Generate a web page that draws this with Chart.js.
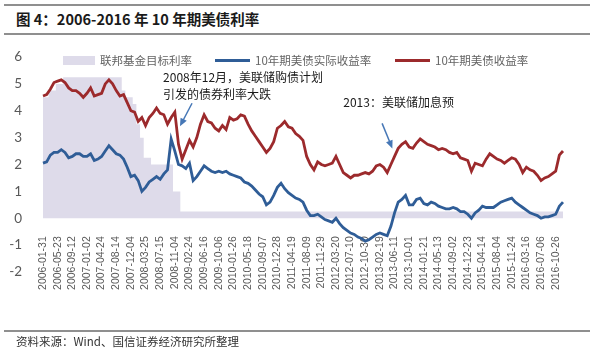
<!DOCTYPE html>
<html>
<head>
<meta charset="utf-8">
<script src="https://cdn.jsdelivr.net/npm/chart.js@4.4.1/dist/chart.umd.min.js"></script>
<style>
  body { margin: 0; background: #fff; font-family: "Noto Sans CJK SC", sans-serif; }
  #page { position: relative; width: 600px; height: 353px; overflow: hidden; }
  .rule { position: absolute; left: 4px; width: 586px; height: 2px; background: #8f8f8f; }
  #title { position: absolute; left: 16px; top: 12px; font-size: 14.5px; line-height: 1; font-weight: bold; color: #1a1a1a; }
  #chart { position: absolute; left: 0; top: 0; }
  #legend { position: absolute; left: 0; top: 52px; width: 600px; height: 16px; font-size: 11.5px; color: #646464; }
  .item { position: absolute; top: 0; height: 16px; display: flex; align-items: center; white-space: nowrap; }
  .item span { margin-left: 5px; }
  #source { position: absolute; left: 16px; top: 336px; font-size: 11.5px; line-height: 1; color: #333; }
</style>
</head>
<body>
<div id="page">
  <div class="rule" style="top:4px"></div>
  <div id="title">图 4：2006-2016 年 10 年期美债利率</div>
  <div class="rule" style="top:33px"></div>
  <canvas id="chart" width="600" height="353"></canvas>
  <div id="legend"></div>
  <div class="rule" style="top:330px"></div>
  <div id="source">资料来源：Wind、国信证券经济研究所整理</div>
</div>
<script>
// x axis tick labels, one every 4 samples (samples are 4 weeks apart)
const tickLabels = [
  '2006-01-31', '2006-05-23', '2006-09-12', '2007-01-02', '2007-04-24', '2007-08-14',
  '2007-12-04', '2008-03-25', '2008-07-15', '2008-11-04', '2009-02-24', '2009-06-16',
  '2009-10-06', '2010-01-26', '2010-05-18', '2010-09-07', '2010-12-28', '2011-04-19',
  '2011-08-09', '2011-11-29', '2012-03-20', '2012-07-10', '2012-10-30', '2013-02-19',
  '2013-06-11', '2013-10-01', '2014-01-21', '2014-05-13', '2014-09-02', '2014-12-23',
  '2015-04-14', '2015-08-04', '2015-11-24', '2016-03-16', '2016-07-06', '2016-10-26'
];

// 联邦基金目标利率 (%)
const fedFunds = [
  4.5, 4.5, 4.75, 4.75, 5.0, 5.0, 5.25, 5.25, 5.25, 5.25,
  5.25, 5.25, 5.25, 5.25, 5.25, 5.25, 5.25, 5.25, 5.25, 5.25,
  5.25, 5.25, 4.75, 4.5, 4.5, 4.25, 3.5, 3.0, 2.25, 2.25,
  2.0, 2.0, 2.0, 2.0, 2.0, 2.0, 1.0, 1.0, 0.25, 0.25,
  0.25, 0.25, 0.25, 0.25, 0.25, 0.25, 0.25, 0.25, 0.25, 0.25,
  0.25, 0.25, 0.25, 0.25, 0.25, 0.25, 0.25, 0.25, 0.25, 0.25,
  0.25, 0.25, 0.25, 0.25, 0.25, 0.25, 0.25, 0.25, 0.25, 0.25,
  0.25, 0.25, 0.25, 0.25, 0.25, 0.25, 0.25, 0.25, 0.25, 0.25,
  0.25, 0.25, 0.25, 0.25, 0.25, 0.25, 0.25, 0.25, 0.25, 0.25,
  0.25, 0.25, 0.25, 0.25, 0.25, 0.25, 0.25, 0.25, 0.25, 0.25,
  0.25, 0.25, 0.25, 0.25, 0.25, 0.25, 0.25, 0.25, 0.25, 0.25,
  0.25, 0.25, 0.25, 0.25, 0.25, 0.25, 0.25, 0.25, 0.25, 0.25,
  0.25, 0.25, 0.25, 0.25, 0.25, 0.25, 0.25, 0.25, 0.25, 0.25,
  0.25, 0.25, 0.25, 0.25, 0.25, 0.25, 0.25, 0.25, 0.25, 0.25,
  0.25, 0.25, 0.25
];

// 10年期美债实际收益率 (%)
const realYield = [
  2.05, 2.1, 2.35, 2.45, 2.45, 2.55, 2.45, 2.25, 2.3, 2.4,
  2.4, 2.3, 2.3, 2.4, 2.15, 2.2, 2.3, 2.5, 2.7, 2.55,
  2.4, 2.35, 2.2, 1.9, 1.55, 1.6, 1.4, 1.0, 1.15, 1.35,
  1.45, 1.55, 1.45, 1.65, 1.8, 2.95, 2.5, 2.0, 1.95, 1.85,
  2.05, 1.4, 1.55, 1.75, 1.95, 1.85, 1.75, 1.7, 1.75, 1.7,
  1.75, 1.65, 1.6, 1.55, 1.5, 1.35, 1.3, 1.2, 1.05, 0.9,
  0.8, 0.5, 0.6, 0.85, 1.15, 1.3, 1.1, 0.95, 0.85, 0.75,
  0.7, 0.6, 0.3, 0.1, 0.1, 0.15, 0.05, -0.05, -0.1, -0.15,
  0.0, -0.2, -0.35, -0.45, -0.55, -0.6, -0.7, -0.75, -0.85, -0.8,
  -0.7, -0.6, -0.55, -0.6, -0.65, -0.3, 0.2, 0.6, 0.7, 0.85,
  0.5, 0.5, 0.7, 0.75, 0.55, 0.5, 0.6, 0.55, 0.45, 0.4,
  0.35, 0.35, 0.4, 0.35, 0.25, 0.25, 0.15, 0.0, 0.2, 0.3,
  0.45, 0.4, 0.4, 0.4, 0.5, 0.6, 0.65, 0.7, 0.75, 0.6,
  0.5, 0.4, 0.3, 0.2, 0.15, 0.1, 0.0, 0.05, 0.05, 0.1,
  0.15, 0.45, 0.6
];

// 10年期美债收益率 (%)
const nominalYield = [
  4.55, 4.6, 4.8, 5.05, 5.1, 5.15, 5.05, 4.85, 4.75, 4.75,
  4.65, 4.5, 4.65, 4.85, 4.55, 4.6, 4.65, 5.0, 5.15, 5.0,
  4.75, 4.55, 4.6, 4.3, 4.0, 3.95, 3.6, 3.75, 3.45, 3.75,
  3.9, 4.1, 3.9, 3.85, 3.5, 3.75, 3.95, 2.75, 2.2, 2.55,
  2.9, 2.65, 3.0, 3.5, 3.85, 3.6, 3.55, 3.35, 3.25, 3.45,
  3.3, 3.75, 3.65, 3.7, 3.85, 3.8, 3.5, 3.25, 3.05, 2.85,
  2.65, 2.45, 2.6, 2.85, 3.35, 3.45, 3.6, 3.4, 3.35, 3.15,
  3.05, 2.9, 2.3, 2.0, 1.8, 2.1, 2.0, 1.95, 2.0, 2.05,
  2.3, 2.0, 1.7, 1.6, 1.5, 1.6, 1.6, 1.65, 1.7, 1.65,
  1.75, 1.95, 2.0, 1.9, 1.7, 2.0, 2.3, 2.6, 2.75, 2.85,
  2.65, 2.6, 2.8, 2.95, 2.85, 2.75, 2.7, 2.65, 2.55, 2.6,
  2.55, 2.45, 2.4, 2.45, 2.25, 2.2, 2.15, 1.75, 2.05, 2.0,
  1.95, 2.2, 2.4, 2.3, 2.2, 2.15, 2.05, 2.15, 2.25, 2.2,
  2.0, 1.7, 1.9, 1.8, 1.75, 1.6, 1.4, 1.5, 1.55, 1.65,
  1.75, 2.35, 2.5
];

// category for every sample, only every 4th one gets a visible date
const categories = nominalYield.map((v, i) => (i % 4 === 0 ? tickLabels[i / 4] : ''));

// annotations, anchored in axis units (sample index, percent)
const notes = [
  { text: '2008年12月，美联储购债计划', at: [32.8, 5.24] },
  { text: '引发的债券利率大跌', at: [32.8, 4.61] },
  { text: '2013：美联储加息预', at: [82, 4.31] }
];
const arrows = [
  { from: [40.7, 4.28], to: [37.4, 3.42] },
  { from: [92.6, 3.53], to: [95.4, 2.6] }
];

const noteLayer = {
  id: 'noteLayer',
  afterDatasetsDraw(chart) {
    const { ctx, scales: { x, y } } = chart;
    ctx.save();
    ctx.font = '12px "Noto Sans CJK SC"';
    ctx.fillStyle = '#1a1a1a';
    ctx.textBaseline = 'middle';
    notes.forEach(n => ctx.fillText(n.text, x.getPixelForValue(n.at[0]), y.getPixelForValue(n.at[1])));

    ctx.strokeStyle = '#4677b6';
    ctx.fillStyle = '#4677b6';
    ctx.lineWidth = 1.5;
    arrows.forEach(a => {
      const x1 = x.getPixelForValue(a.from[0]), y1 = y.getPixelForValue(a.from[1]);
      const x2 = x.getPixelForValue(a.to[0]), y2 = y.getPixelForValue(a.to[1]);
      const ang = Math.atan2(y2 - y1, x2 - x1);
      ctx.beginPath();
      ctx.moveTo(x1, y1);
      ctx.lineTo(x2 - 6 * Math.cos(ang), y2 - 6 * Math.sin(ang));
      ctx.stroke();
      ctx.beginPath();
      ctx.moveTo(x2, y2);
      ctx.lineTo(x2 - 8 * Math.cos(ang) + 3.5 * Math.sin(ang), y2 - 8 * Math.sin(ang) - 3.5 * Math.cos(ang));
      ctx.lineTo(x2 - 8 * Math.cos(ang) - 3.5 * Math.sin(ang), y2 - 8 * Math.sin(ang) + 3.5 * Math.cos(ang));
      ctx.closePath();
      ctx.fill();
    });
    ctx.restore();
  }
};

const chart = new Chart(document.getElementById('chart'), {
  type: 'line',
  data: {
    labels: categories,
    datasets: [{
      label: '联邦基金目标利率',
      data: fedFunds,
      stepped: 'middle',
      fill: 'origin',
      backgroundColor: '#dedbea',
      borderWidth: 0,
      pointRadius: 0,
      order: 10
    }, {
      label: '10年期美债实际收益率',
      data: realYield,
      borderColor: '#2f5d97',
      borderWidth: 2.8,
      pointRadius: 0,
      tension: 0,
      order: 2
    }, {
      label: '10年期美债收益率',
      data: nominalYield,
      borderColor: '#9c2a2c',
      borderWidth: 2.8,
      pointRadius: 0,
      tension: 0,
      order: 1
    }]
  },
  options: {
    responsive: false,
    animation: false,
    layout: { padding: { top: 57, bottom: 81, left: 0, right: 37 } },
    plugins: { legend: { display: false }, tooltip: { enabled: false } },
    scales: {
      x: {
        position: { y: 0 },
        grid: { display: false },
        border: { display: false },
        ticks: {
          autoSkip: false,
          maxRotation: 90,
          minRotation: 90,
          padding: 10,
          color: '#595959',
          font: { family: 'Liberation Sans', size: 10.5 },
          callback: (v, i) => categories[i]
        }
      },
      y: {
        min: -2,
        max: 6,
        grid: { display: false },
        border: { display: false },
        afterFit: s => { s.width = 43; },
        ticks: {
          stepSize: 1,
          padding: 13,
          color: '#595959',
          font: { family: 'Lato', size: 13.5 }
        }
      }
    }
  },
  plugins: [noteLayer]
});

// legend built from the datasets
const legendLeft = [63, 215, 395];
const legend = document.getElementById('legend');
chart.data.datasets.forEach((ds, i) => {
  const item = document.createElement('div');
  item.className = 'item';
  item.style.left = legendLeft[i] + 'px';
  const sw = document.createElement('div');
  if (ds.fill) {
    sw.style.cssText = 'width:32px;height:9px;background:' + ds.backgroundColor;
  } else {
    sw.style.cssText = 'width:35px;height:3px;background:' + ds.borderColor;
  }
  const txt = document.createElement('span');
  txt.textContent = ds.label;
  item.appendChild(sw);
  item.appendChild(txt);
  legend.appendChild(item);
});
</script>
</body>
</html>
